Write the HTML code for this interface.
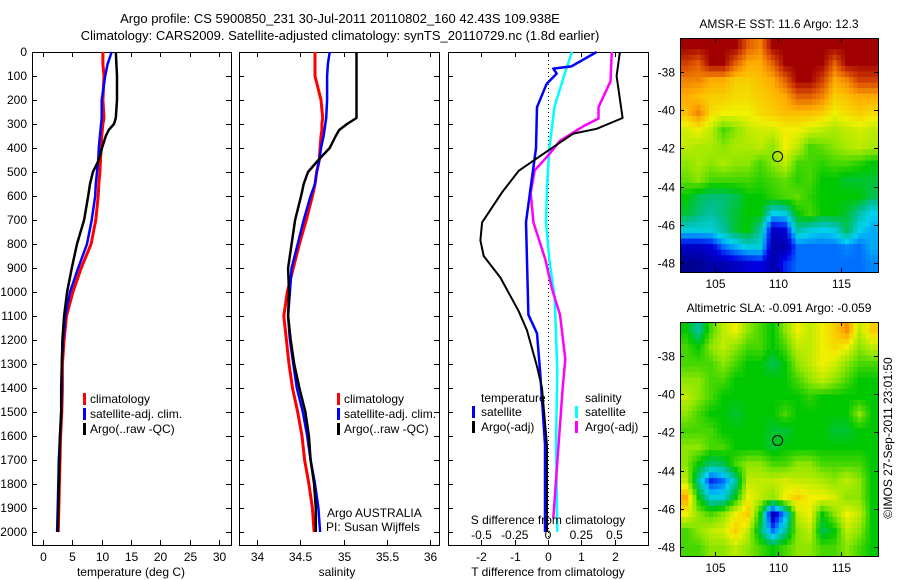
<!DOCTYPE html>
<html><head><meta charset="utf-8">
<style>
html,body{margin:0;padding:0;background:#fff;}
svg{display:block;font-family:"Liberation Sans",sans-serif;}
text{font-size:12px;fill:#000;}
</style></head>
<body>
<svg id="fig" width="900" height="580" viewBox="0 0 900 580" xmlns="http://www.w3.org/2000/svg">
<text x="340" y="23" text-anchor="middle" style="font-size:13px">Argo profile: CS 5900850_231 30-Jul-2011 20110802_160 42.43S 109.938E</text>
<text x="340" y="40" text-anchor="middle" style="font-size:13px">Climatology: CARS2009. Satellite-adjusted climatology: synTS_20110729.nc (1.8d earlier)</text>
<g id="g"></g>
</svg>
<script>
// ---------- data ----------
const depthGrid = [0,50,100,200,275,300,325,350,400,450,500,550,600,700,800,900,1000,1100,1200,1300,1400,1500,1600,1700,1800,1900,2000];
const tempClim  = [10.2,10.2,10.4,10.2,10.4,10.2,10.1,10.0,9.9,9.8,9.7,9.5,9.4,9.0,8.2,6.5,5.1,4.0,3.6,3.3,3.3,3.2,3.0,2.9,2.8,2.7,2.6];
const tempSat   = [11.7,11.0,10.6,10.0,10.0,9.9,9.8,9.7,9.5,9.4,9.2,9.0,8.9,8.3,7.5,6.0,4.6,3.8,3.4,3.2,3.2,3.1,2.9,2.7,2.6,2.5,2.4];
const tempArgo  = [12.4,12.5,12.6,12.6,12.4,12.1,11.2,10.7,10.05,9.5,8.5,8.0,7.7,7.0,5.8,4.9,4.1,3.6,3.3,3.2,3.1,3.1,2.9,2.8,2.7,2.6,2.5];
const salClim   = [34.67,34.67,34.67,34.74,34.76,34.75,34.75,34.74,34.73,34.72,34.69,34.67,34.64,34.57,34.49,34.42,34.35,34.31,34.34,34.37,34.41,34.47,34.52,34.55,34.60,34.64,34.66];
const salSat    = [34.84,34.82,34.81,34.81,34.80,34.79,34.78,34.77,34.74,34.72,34.69,34.67,34.62,34.54,34.47,34.40,34.38,34.36,34.38,34.42,34.46,34.53,34.58,34.62,34.67,34.71,34.73];
const salArgo   = [35.15,35.15,35.15,35.15,35.15,35.04,34.95,34.91,34.84,34.71,34.59,34.54,34.51,34.44,34.40,34.36,34.37,34.36,34.39,34.43,34.49,34.56,34.60,34.62,34.66,34.68,34.68];
const dtArgoDepth = [0,100,275,320,340,415,495,585,710,785,850,940,1080,1160,1310,1400,1640,2000];
const dtArgo      = [2.16,2.06,2.24,1.46,0.76,-0.04,-0.88,-1.38,-1.98,-2.03,-1.93,-1.43,-0.88,-0.63,-0.33,-0.18,-0.03,-0.03];
const dtSatDepth  = [0,60,69,90,132,230,401,709,1095,1172,1326,1635,2000];
const dtSat       = [1.46,0.7,0.16,0.26,-0.04,-0.33,-0.36,-0.66,-0.59,-0.33,-0.24,-0.09,-0.09];
const dsSatDepth  = [0,100,226,401,555,709,864,1018,1326,1635,2000];
const dsSat       = [0.18,0.12,0.05,0.01,-0.007,-0.015,0.01,0.05,0.07,0.06,0.07];
const dsArgoDepth = [0,122,230,277,308,370,432,493,586,709,864,987,1095,1280,1403,1635,1943];
const dsArgo      = [0.48,0.47,0.38,0.38,0.27,0.09,0,-0.1,-0.13,-0.11,-0.02,0.03,0.09,0.13,0.11,0.08,0.04];
const depthTicks = [0,100,200,300,400,500,600,700,800,900,1000,1100,1200,1300,1400,1500,1600,1700,1800,1900,2000];
const tempTicks = [0,5,10,15,20,25,30];
const salTicks = ["34","34.5","35","35.5","36"];
const dtTicks = [-2,-1,0,1,2];
const dsTicks = ["-0.5","-0.25","0","0.25","0.5"];
const latTicks = [-38,-40,-42,-44,-46,-48];
const lonTicks = [105,110,115];
const sstGrid = [
[1,1,1,1,1,0.85,0.8,1,1,1,1,1,1,1,1,1],
[0.9,0.85,1,1,0.85,0.75,0.75,0.85,1,1,1,1,0.85,1,1,1],
[0.8,0.8,0.75,0.75,0.7,0.7,0.72,0.75,0.85,1,1,0.9,0.75,0.8,0.9,0.9],
[0.75,0.72,0.7,0.7,0.68,0.68,0.7,0.72,0.75,0.85,0.85,0.8,0.7,0.72,0.75,0.75],
[0.72,0.8,0.68,0.65,0.65,0.65,0.68,0.7,0.72,0.72,0.72,0.7,0.65,0.68,0.7,0.68],
[0.62,0.65,0.6,0.5,0.55,0.6,0.62,0.62,0.65,0.65,0.62,0.6,0.58,0.6,0.62,0.6],
[0.6,0.58,0.58,0.55,0.58,0.58,0.6,0.55,0.65,0.6,0.5,0.52,0.55,0.58,0.6,0.58],
[0.55,0.58,0.55,0.58,0.55,0.55,0.5,0.55,0.6,0.5,0.5,0.48,0.5,0.5,0.48,0.45],
[0.52,0.55,0.5,0.5,0.5,0.5,0.48,0.5,0.52,0.48,0.5,0.45,0.45,0.42,0.42,0.42],
[0.45,0.4,0.38,0.38,0.4,0.45,0.45,0.48,0.5,0.52,0.48,0.45,0.45,0.45,0.45,0.4],
[0.42,0.38,0.35,0.38,0.42,0.45,0.45,0.28,0.3,0.45,0.5,0.45,0.45,0.42,0.35,0.28],
[0.3,0.3,0.3,0.35,0.42,0.45,0.35,0.08,0.1,0.35,0.3,0.28,0.3,0.4,0.28,0.25],
[0.08,0.08,0.1,0.2,0.25,0.3,0.3,0.05,0.05,0.2,0.2,0.2,0.2,0.22,0.2,0.25],
[0.02,0.02,0.05,0.05,0.08,0.1,0.12,0.05,0.15,0.2,0.2,0.2,0.2,0.2,0.2,0.22]];
const slaGrid = [
[0.45,0.35,0.5,0.6,0.65,0.55,0.5,0.45,0.55,0.65,0.6,0.65,0.7,0.78,0.6,0.7],
[0.5,0.45,0.55,0.6,0.55,0.5,0.5,0.45,0.5,0.6,0.6,0.65,0.68,0.65,0.55,0.6],
[0.5,0.5,0.5,0.55,0.5,0.45,0.45,0.4,0.45,0.55,0.6,0.65,0.62,0.55,0.5,0.5],
[0.55,0.55,0.5,0.5,0.45,0.45,0.45,0.45,0.45,0.5,0.55,0.6,0.55,0.5,0.45,0.45],
[0.6,0.55,0.5,0.45,0.45,0.45,0.45,0.45,0.45,0.45,0.48,0.45,0.45,0.45,0.45,0.45],
[0.55,0.5,0.45,0.45,0.42,0.45,0.45,0.45,0.5,0.45,0.45,0.45,0.45,0.45,0.55,0.45],
[0.5,0.5,0.5,0.45,0.45,0.45,0.45,0.42,0.42,0.45,0.45,0.45,0.42,0.42,0.45,0.45],
[0.55,0.55,0.5,0.5,0.45,0.45,0.45,0.42,0.45,0.45,0.45,0.45,0.45,0.45,0.45,0.45],
[0.55,0.45,0.38,0.4,0.5,0.55,0.55,0.5,0.5,0.55,0.55,0.5,0.5,0.5,0.5,0.45],
[0.6,0.35,0.15,0.2,0.35,0.6,0.6,0.6,0.62,0.6,0.6,0.58,0.55,0.6,0.55,0.45],
[0.75,0.45,0.3,0.3,0.45,0.65,0.6,0.55,0.65,0.7,0.65,0.65,0.62,0.55,0.55,0.45],
[0.65,0.55,0.5,0.55,0.65,0.7,0.45,0.05,0.25,0.6,0.65,0.45,0.55,0.65,0.6,0.45],
[0.5,0.55,0.6,0.62,0.7,0.6,0.4,0.2,0.35,0.55,0.6,0.4,0.45,0.6,0.55,0.45],
[0.5,0.5,0.55,0.55,0.6,0.55,0.5,0.45,0.5,0.55,0.55,0.5,0.5,0.55,0.5,0.45]];
const argoLon = 109.938, argoLat = -42.43;

// ---------- helpers ----------
const NS="http://www.w3.org/2000/svg";
const G=document.getElementById('g');
function mk(tag,attrs,parent){const e=document.createElementNS(NS,tag);for(const k in attrs)e.setAttribute(k,attrs[k]);(parent||G).appendChild(e);return e;}
function txt(x,y,s,anchor,parent){const t=mk('text',{x:x,y:y,'text-anchor':anchor||'start'},parent);t.textContent=s;return t;}
const PT=52, PB=545;
const yD = d => PT + d*0.24;
const xT = t => 43 + t*5.87;
const xS = s => 257 + (s-34)*86.5;
const xDT = v => 548 + v*33.3;
const xDS = v => 548 + v*133;

function line(xs,ds,xf,color,w,name){
  const p=xs.map((v,i)=>xf(v).toFixed(1)+','+yD(ds[i]).toFixed(1)).join(' ');
  const e=mk('polyline',{points:p,fill:'none',stroke:color,'stroke-width':w,'stroke-linejoin':'round'});
  
  
}
function panel(x0,x1,name){
  const r=mk('rect',{x:x0+0.5,y:PT+0.5,width:x1-x0,height:PB-PT,fill:'none',stroke:'#000','stroke-width':1});
  
  
  depthTicks.forEach(d=>{
    const y=yD(d)+0.5;
    mk('line',{x1:x0,x2:x0+5,y1:y,y2:y,stroke:'#000'});
    mk('line',{x1:x1-5,x2:x1,y1:y,y2:y,stroke:'#000'});
  });
}
function xticks(vals,xf,labels,name){
  vals.forEach((v,i)=>{
    const x=Math.round(xf(v))+0.5;
    mk('line',{x1:x,x2:x,y1:PT,y2:PT+5,stroke:'#000'});
    mk('line',{x1:x,x2:x,y1:PB-5,y2:PB,stroke:'#000'});
    const t=txt(x,561,labels[i],'middle');
    
    
  });
}
function legendBar(x,y,color){mk('rect',{x:x,y:y-10,width:3,height:12,fill:color});}

// ---------- panel 1 ----------
panel(32,231,'temperature-panel');
depthTicks.forEach(d=>{const t=txt(27,yD(d)+4,String(d),'end');
  
  });
xticks(tempTicks,xT,tempTicks.map(String),'temperature-tick-label');
line(tempClim,depthGrid,xT,'#ff0000',3,'temp-climatology-line');
line(tempSat,depthGrid,xT,'#0000ff',2.5,'temp-satellite-line');
line(tempArgo,depthGrid,xT,'#000',2.5,'temp-argo-line');
legendBar(83,403,'#f00');legendBar(83,418,'#00f');legendBar(83,433,'#000');
txt(90,403,'climatology');txt(90,418,'satellite-adj. clim.');txt(90,433,'Argo(..raw -QC)');
txt(131,576,'temperature (deg C)','middle');

// ---------- panel 2 ----------
panel(239,439,'salinity-panel');
xticks(salTicks.map(Number),xS,salTicks,'salinity-tick-label');
line(salClim,depthGrid,xS,'#ff0000',3,'sal-climatology-line');
line(salSat,depthGrid,xS,'#0000ff',2.5,'sal-satellite-line');
line(salArgo,depthGrid,xS,'#000',2.5,'sal-argo-line');
legendBar(337,403,'#f00');legendBar(337,418,'#00f');legendBar(337,433,'#000');
txt(344,403,'climatology');txt(344,418,'satellite-adj. clim.');txt(344,433,'Argo(..raw -QC)');
txt(327,517,'Argo AUSTRALIA');txt(326,531,'PI: Susan Wijffels');
txt(337,576,'salinity','middle');

// ---------- panel 3 ----------
panel(448,648,'difference-panel');
mk('line',{x1:548.5,x2:548.5,y1:PT,y2:PB,stroke:'#000','stroke-dasharray':'1,3'});
xticks(dtTicks,xDT,dtTicks.map(String),'t-diff-tick-label');
line(dsSat,dsSatDepth,xDS,'#00ffff',2.5,'sal-diff-satellite-line');
line(dsArgo,dsArgoDepth,xDS,'#ff00ff',2.5,'sal-diff-argo-line');
line(dtSat,dtSatDepth,xDT,'#0000ff',2.5,'temp-diff-satellite-line');
line(dtArgo,dtArgoDepth,xDT,'#000',2,'temp-diff-argo-line');
txt(481,402,'temperature');legendBar(472,416,'#00f');legendBar(472,431,'#000');
txt(481,416,'satellite');txt(481,431,'Argo(-adj)');
txt(585,402,'salinity');legendBar(575,416,'#0ff');legendBar(575,431,'#f0f');
txt(585,416,'satellite');txt(585,431,'Argo(-adj)');
txt(548,524,'S difference from climatology','middle');
dsTicks.forEach(s=>{const t=txt(xDS(Number(s)),539,s,'middle');
  
  });
txt(548,576,'T difference from climatology','middle');

// ---------- maps ----------
const cmapStops=[[0,0,0,130],[0.12,0,0,230],[0.2,0,110,255],[0.28,0,210,240],[0.36,0,190,150],[0.45,0,200,0],[0.55,140,230,0],[0.65,240,240,0],[0.75,255,170,0],[0.87,220,80,0],[1,160,0,0]];
function cmap(v){
  v=Math.max(0,Math.min(1,v));
  for(let i=1;i<cmapStops.length;i++){
    const a=cmapStops[i-1],b=cmapStops[i];
    if(v<=b[0]){const f=(v-a[0])/(b[0]-a[0]);
      return 'rgb('+[1,2,3].map(k=>Math.round(a[k]+(b[k]-a[k])*f)).join(',')+')';}
  }
  return 'rgb(160,0,0)';
}
const MX0=680,MX1=878, lon0=102.2, lon1=117.9, lat0=-36.25, lat1=-48.45;
const SUB=3;
function sample(grid,r,c){ // bilinear on cell centres
  const R=grid.length,C=grid[0].length;
  r=Math.max(0,Math.min(R-1,r));c=Math.max(0,Math.min(C-1,c));
  const r0=Math.floor(r),c0=Math.floor(c),r1=Math.min(R-1,r0+1),c1=Math.min(C-1,c0+1);
  const fr=r-r0,fc=c-c0;
  return grid[r0][c0]*(1-fr)*(1-fc)+grid[r0][c1]*(1-fr)*fc+grid[r1][c0]*fr*(1-fc)+grid[r1][c1]*fr*fc;
}
function drawMap(top,grid,title,name){
  const bot=top+234;
  const xL=lon=>MX0+(lon-lon0)/(lon1-lon0)*(MX1-MX0);
  const yL=lat=>top+(lat-lat0)/(lat1-lat0)*(bot-top);
  const g=mk('g',{});
  
  
  const rows=grid.length*SUB, cols=grid[0].length*SUB;
  const cw=(MX1-MX0)/cols, ch=(bot-top)/rows;
  for(let ri=0;ri<rows;ri++)for(let ci=0;ci<cols;ci++){
    const v=sample(grid,(ri+0.5)/SUB-0.5,(ci+0.5)/SUB-0.5);
    const c=mk('rect',{x:(MX0+ci*cw).toFixed(2),y:(top+ri*ch).toFixed(2),width:(cw+0.6).toFixed(2),height:(ch+0.6).toFixed(2),fill:cmap(v)},g);
    
    
  }
  mk('rect',{x:MX0+0.5,y:top+0.5,width:MX1-MX0,height:bot-top,fill:'none',stroke:'#000'},g);
  latTicks.forEach(l=>{const y=Math.round(yL(l))+0.5;
    mk('line',{x1:MX0,x2:MX0+4,y1:y,y2:y,stroke:'#000'},g);
    mk('line',{x1:MX1-4,x2:MX1,y1:y,y2:y,stroke:'#000'},g);
    const t=txt(675,y+4,String(l),'end',g);
    
    });
  lonTicks.forEach(l=>{const x=Math.round(xL(l))+0.5;
    mk('line',{x1:x,x2:x,y1:top,y2:top+4,stroke:'#000'},g);
    mk('line',{x1:x,x2:x,y1:bot-4,y2:bot,stroke:'#000'},g);
    const t=txt(x,bot+16,String(l),'middle',g);
    
    });
  const c=mk('circle',{cx:xL(argoLon),cy:yL(argoLat),r:5,fill:'none',stroke:'#000','stroke-width':1},g);
  
  
  txt(779,top-10,title,'middle',g);
}
drawMap(38,sstGrid,'AMSR-E SST: 11.6 Argo: 12.3','sst-map');
drawMap(322,slaGrid,'Altimetric SLA: -0.091  Argo: -0.059','sla-map');
const cr=txt(0,0,'©IMOS 27-Sep-2011 23:01:50','middle');
cr.setAttribute('transform','translate(892,438) rotate(-90)');


</script>
</body></html>
